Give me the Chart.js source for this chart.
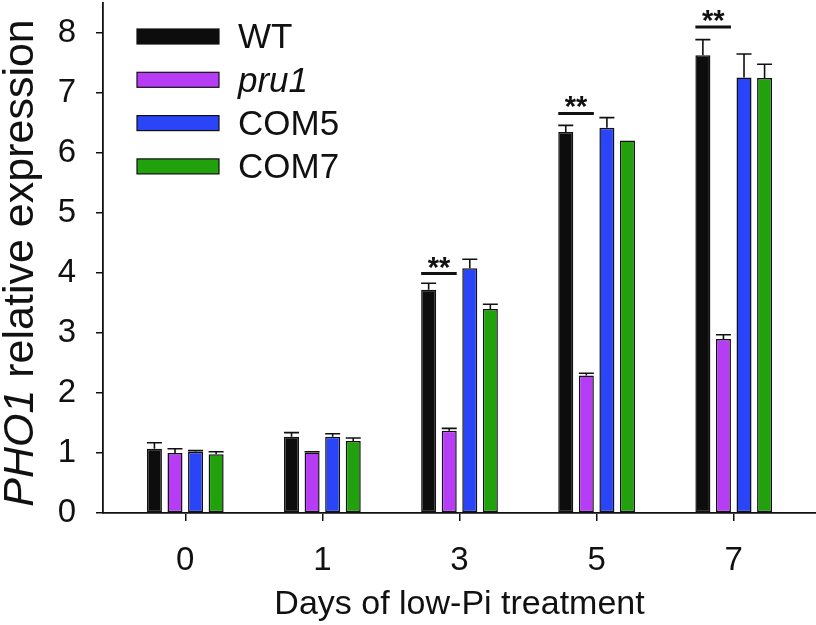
<!DOCTYPE html>
<html>
<head>
<meta charset="utf-8">
<script src="https://cdn.jsdelivr.net/npm/chart.js@4.4.1/dist/chart.umd.min.js"></script>
<style>
  body { margin: 0; background: #fff; }
  #wrap { width: 816px; height: 625px; }
</style>
</head>
<body>
<div id="wrap"><canvas id="chart"></canvas></div>
<script>
// days of low-Pi treatment
const days = ['0', '1', '3', '5', '7'];

// mean relative expression per genotype
const wt   = [1.07, 1.27, 3.72, 6.35, 7.63];
const pru1 = [1.00, 1.01, 1.37, 2.29, 2.90];
const com5 = [1.02, 1.27, 4.08, 6.42, 7.26];
const com7 = [0.98, 1.20, 3.40, 6.21, 7.25];

// upper error (SD)
const wtErr   = [0.10, 0.07, 0.11, 0.11, 0.26];
const pru1Err = [0.07, 0.01, 0.04, 0.04, 0.07];
const com5Err = [0.02, 0.05, 0.15, 0.17, 0.39];
const com7Err = [0.04, 0.05, 0.08, 0.00, 0.23];

// height of the WT vs pru1 significance bar (null = none)
const sigHeights = [null, null, 3.99, 6.66, 8.10];

const yTicks = [0, 1, 2, 3, 4, 5, 6, 7, 8];

const FONT = "'Liberation Sans', Arial, Helvetica, sans-serif";
const errors = [wtErr, pru1Err, com5Err, com7Err];

function toPoints(values) {
    return values.map((v, i) => ({ x: i, y: v }));
}

const datasets = [
    { label: 'WT',   italic: false, data: toPoints(wt),   backgroundColor: '#0d0d0d' },
    { label: 'pru1', italic: true,  data: toPoints(pru1), backgroundColor: '#b63cf5' },
    { label: 'COM5', italic: false, data: toPoints(com5), backgroundColor: '#2a45f7' },
    { label: 'COM7', italic: false, data: toPoints(com7), backgroundColor: '#21a10c' }
].map(ds => Object.assign(ds, {
    borderColor: '#111',
    borderWidth: 1.5,
    borderSkipped: false,
    categoryPercentage: 0.6,
    barPercentage: 0.73
}));

// error bars, significance marks, legend and y title
const extras = {
    id: 'extras',
    afterDatasetsDraw(chart) {
        const ctx = chart.ctx;
        const y = chart.scales.y;
        ctx.save();
        ctx.strokeStyle = '#111';
        ctx.lineWidth = 1.6;
        chart.data.datasets.forEach((ds, di) => {
            const meta = chart.getDatasetMeta(di);
            meta.data.forEach((bar, i) => {
                const err = errors[di][i];
                if (!err) return;
                const top = y.getPixelForValue(ds.data[i].y + err);
                const half = bar.width / 2;
                ctx.beginPath();
                ctx.moveTo(bar.x, bar.y);
                ctx.lineTo(bar.x, top);
                ctx.moveTo(bar.x - half, top);
                ctx.lineTo(bar.x + half, top);
                ctx.stroke();
            });
        });

        // ** between WT and pru1
        const m0 = chart.getDatasetMeta(0), m1 = chart.getDatasetMeta(1);
        ctx.lineWidth = 3;
        ctx.fillStyle = '#111';
        ctx.font = 'bold 29px ' + FONT;
        ctx.textAlign = 'center';
        ctx.textBaseline = 'alphabetic';
        sigHeights.forEach((h, i) => {
            if (h === null) return;
            const a = m0.data[i], b = m1.data[i];
            const left = a.x - a.width / 2;
            const right = b.x + b.width / 2;
            const py = y.getPixelForValue(h);
            ctx.beginPath();
            ctx.moveTo(left, py);
            ctx.lineTo(right, py);
            ctx.stroke();
            ctx.fillText('**', (left + right) / 2, py + 3);
        });
        ctx.restore();
    },
    afterDraw(chart) {
        const ctx = chart.ctx;
        const area = chart.chartArea;
        ctx.save();

        // legend
        ctx.textAlign = 'left';
        ctx.textBaseline = 'middle';
        chart.data.datasets.forEach((ds, i) => {
            const cy = area.top + 33.5 + i * 43.3;
            ctx.fillStyle = ds.backgroundColor;
            ctx.fillRect(137, cy - 7.5, 82, 15);
            ctx.strokeStyle = '#111';
            ctx.lineWidth = 1.2;
            ctx.strokeRect(137, cy - 7.5, 82, 15);
            ctx.fillStyle = '#111';
            ctx.font = (ds.italic ? 'italic ' : '') + '35px ' + FONT;
            ctx.fillText(ds.label, 238, cy + 2);
        });

        // y axis title, PHO1 in italics
        const part1 = 'PHO1';
        const part2 = ' relative expression';
        const size = 43;
        ctx.font = 'italic ' + size + 'px ' + FONT;
        const w1 = ctx.measureText(part1).width;
        ctx.font = size + 'px ' + FONT;
        const w2 = ctx.measureText(part2).width;
        const total = w1 + w2;
        ctx.translate(33, 263);
        ctx.rotate(-Math.PI / 2);
        ctx.textBaseline = 'alphabetic';
        ctx.fillStyle = '#111';
        ctx.font = 'italic ' + size + 'px ' + FONT;
        ctx.fillText(part1, -total / 2, 0);
        ctx.font = size + 'px ' + FONT;
        ctx.fillText(part2, -total / 2 + w1, 0);
        ctx.restore();
    }
};

const chart = new Chart(document.getElementById('chart'), {
    type: 'bar',
    data: { datasets: datasets },
    options: {
        responsive: true,
        maintainAspectRatio: false,
        animation: false,
        layout: { padding: { left: 58, top: 3, right: 0, bottom: 0 } },
        plugins: {
            legend: { display: false },
            tooltip: { enabled: false }
        },
        scales: {
            x: {
                type: 'linear',
                min: -0.6,
                max: 4.6,
                offset: false,
                afterBuildTicks: axis => {
                    axis.ticks = days.map((d, i) => ({ value: i }));
                },
                afterFit: axis => {
                    axis.height = 112;
                    axis.paddingLeft = 0;
                    axis.paddingRight = 0;
                },
                ticks: {
                    color: '#111',
                    font: { family: FONT, size: 33 },
                    padding: 20,
                    maxRotation: 0,
                    autoSkip: false,
                    callback: v => days[v]
                },
                grid: {
                    display: true,
                    offset: false,
                    drawOnChartArea: false,
                    drawTicks: true,
                    tickLength: 8,
                    color: '#111',
                    lineWidth: 1.5
                },
                border: { display: true, color: '#111', width: 1.8 },
                title: {
                    display: true,
                    text: 'Days of low-Pi treatment',
                    color: '#111',
                    font: { family: FONT, size: 34 },
                    padding: { top: 4, bottom: 0 }
                }
            },
            y: {
                min: 0,
                max: 8.5,
                afterBuildTicks: axis => {
                    axis.ticks = yTicks.map(v => ({ value: v }));
                },
                afterFit: axis => {
                    axis.width = 45;
                    axis.paddingTop = 0;
                    axis.paddingBottom = 0;
                },
                ticks: {
                    color: '#111',
                    font: { family: FONT, size: 33 },
                    padding: 20
                },
                grid: {
                    display: true,
                    drawOnChartArea: false,
                    drawTicks: true,
                    tickLength: 7,
                    color: '#111',
                    lineWidth: 1.5
                },
                border: { display: true, color: '#111', width: 1.8 }
            }
        }
    },
    plugins: [extras]
});
</script>
</body>
</html>
